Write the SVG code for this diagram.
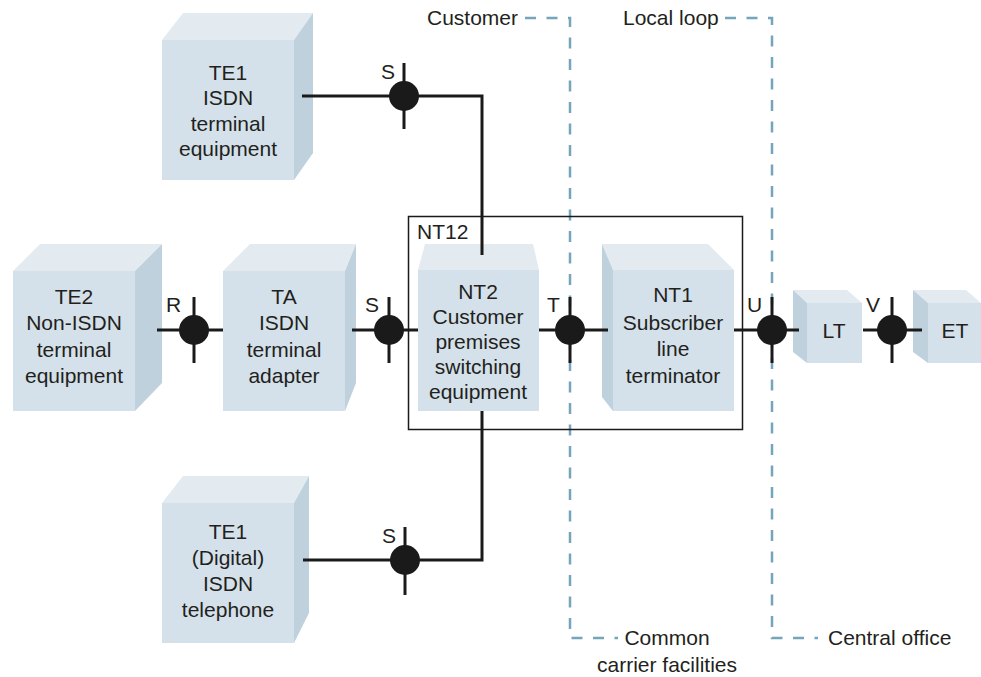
<svg xmlns="http://www.w3.org/2000/svg" width="981" height="677" viewBox="0 0 981 677">
<style>
text{font-family:"Liberation Sans",Arial,sans-serif;font-size:21px;fill:#231f20}
.c{text-anchor:middle}
.front{fill:#d4e1ea}
.top{fill:#e3ebf1}
.side{fill:#bed1dd}
.wire{fill:none;stroke:#1a1a1a;stroke-width:3}
.dash{fill:none;stroke:#74a5bd;stroke-width:2.5;stroke-dasharray:11 10.5}
.dot{fill:#1a1a1a}
</style>
<rect width="981" height="677" fill="#fff"/>
<g id="boundaries">
<path class="dash" d="M525,18 H570 V638 H618"/>
<path class="dash" d="M725,18 H772 V638 H818"/>
<text x="427" y="25">Customer</text>
<text x="623" y="25">Local loop</text>
<text x="667" y="645" class="c">Common</text>
<text x="667" y="672" class="c">carrier facilities</text>
<text x="828" y="645">Central office</text>
</g>
<g id="NT12">
<rect x="408.5" y="216.5" width="334" height="213" fill="none" stroke="#1a1a1a" stroke-width="1.5"/>
<text x="417" y="239">NT12</text>
</g>
<g id="TE1-top">
<polygon class="top" points="162,40 183,13 313,13 294,40"/>
<polygon class="side" points="294,40 313,13 313,153 294,180"/>
<rect class="front" x="162" y="40" width="132" height="140"/>
<text class="c" x="228" y="80">TE1</text>
<text class="c" x="228" y="105">ISDN</text>
<text class="c" x="228" y="131">terminal</text>
<text class="c" x="228" y="156">equipment</text>
</g>
<g id="TE2">
<polygon class="top" points="13,271 40,244 162,244 135,271"/>
<polygon class="side" points="135,271 162,244 162,383 135,411"/>
<rect class="front" x="13" y="271" width="122" height="140"/>
<text class="c" x="74" y="304">TE2</text>
<text class="c" x="74" y="330">Non-ISDN</text>
<text class="c" x="74" y="357">terminal</text>
<text class="c" x="74" y="383">equipment</text>
</g>
<g id="TA">
<polygon class="top" points="223,271 250,244 356,244 345,271"/>
<polygon class="side" points="345,271 356,244 356,383 345,411"/>
<rect class="front" x="223" y="271" width="122" height="140"/>
<text class="c" x="284" y="304">TA</text>
<text class="c" x="284" y="330">ISDN</text>
<text class="c" x="284" y="357">terminal</text>
<text class="c" x="284" y="383">adapter</text>
</g>
<g id="NT2">
<polygon class="top" points="418,270 425,244 533,244 539,270"/>
<rect class="front" x="418" y="270" width="121" height="141"/>
<text class="c" x="478" y="299">NT2</text>
<text class="c" x="478" y="324">Customer</text>
<text class="c" x="478" y="349">premises</text>
<text class="c" x="478" y="374">switching</text>
<text class="c" x="478" y="399">equipment</text>
</g>
<g id="NT1">
<polygon class="top" points="602,244 708,244 734,270 613,270"/>
<polygon class="side" points="602,244 613,270 613,411 602,397"/>
<rect class="front" x="613" y="270" width="121" height="141"/>
<text class="c" x="673" y="302">NT1</text>
<text class="c" x="673" y="330">Subscriber</text>
<text class="c" x="673" y="356">line</text>
<text class="c" x="673" y="383">terminator</text>
</g>
<g id="LT">
<polygon class="top" points="793,290 847,290 862,303 807,303"/>
<polygon class="side" points="793,290 807,303 807,363 793,352"/>
<rect class="front" x="807" y="303" width="55" height="60"/>
<text class="c" x="834" y="338">LT</text>
</g>
<g id="ET">
<polygon class="top" points="913,290 966,290 981,303 928,303"/>
<polygon class="side" points="913,290 928,303 928,363 913,352"/>
<rect class="front" x="928" y="303" width="53" height="60"/>
<text class="c" x="955" y="338">ET</text>
</g>
<g id="TE1-bottom">
<polygon class="top" points="162,503 183,476 309,476 294,503"/>
<polygon class="side" points="294,503 309,476 309,613 294,643"/>
<rect class="front" x="162" y="503" width="132" height="140"/>
<text class="c" x="228" y="539">TE1</text>
<text class="c" x="228" y="565">(Digital)</text>
<text class="c" x="228" y="591">ISDN</text>
<text class="c" x="228" y="617">telephone</text>
</g>
<g id="connectors">
<path class="wire" d="M302,96 H482 V255"/>
<path class="wire" d="M303,560 H482 V411"/>
<path class="wire" d="M157,330 H223"/>
<path class="wire" d="M352,330 H418"/>
<path class="wire" d="M539,330 H608"/>
<path class="wire" d="M734,330 H799"/>
<path class="wire" d="M863,330 H922"/>
</g>
<g id="junctions">
<g id="S-top"><path class="wire" d="M404,63 V129"/><circle class="dot" cx="404" cy="96" r="15"/><text x="381" y="79">S</text></g>
<g id="R"><path class="wire" d="M194,297 V363"/><circle class="dot" cx="194" cy="330" r="15"/><text x="166" y="312">R</text></g>
<g id="S-mid"><path class="wire" d="M389,297 V363"/><circle class="dot" cx="389" cy="330" r="15"/><text x="365" y="312">S</text></g>
<g id="T"><path class="wire" d="M570,297 V363"/><circle class="dot" cx="570" cy="330" r="15"/><text x="547" y="312">T</text></g>
<g id="U"><path class="wire" d="M772,297 V363"/><circle class="dot" cx="772" cy="330" r="15"/><text x="747" y="312">U</text></g>
<g id="V"><path class="wire" d="M892,297 V363"/><circle class="dot" cx="892" cy="330" r="15"/><text x="866" y="312">V</text></g>
<g id="S-bottom"><path class="wire" d="M405,527 V595"/><circle class="dot" cx="405" cy="560" r="15"/><text x="382" y="543">S</text></g>
</g>
</svg>
